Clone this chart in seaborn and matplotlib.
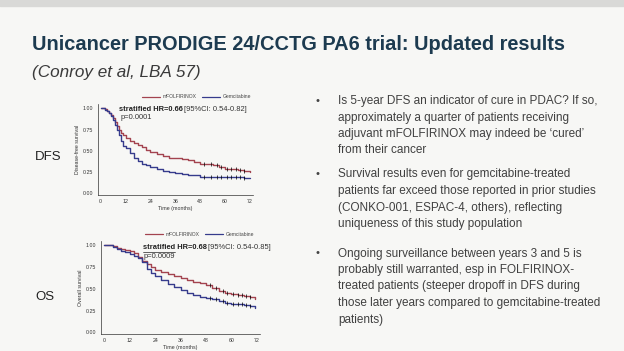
import numpy as np
import pandas as pd
import matplotlib
matplotlib.use("Agg")
import matplotlib.pyplot as plt
import seaborn as sns

# Kaplan-Meier curves
dfs_t = [0, 1, 2, 3, 4, 5, 6, 7, 8, 9, 10, 11, 12, 14, 16, 18, 20, 22, 24, 27, 30, 33, 36, 39, 42, 45, 48, 51, 54, 57, 60, 63, 66, 69, 72]
dfs_folf = [1.0, 1.0, 0.99, 0.97, 0.95, 0.92, 0.89, 0.84, 0.79, 0.74, 0.71, 0.68, 0.65, 0.62, 0.59, 0.57, 0.54, 0.51, 0.49, 0.46, 0.44, 0.42, 0.41, 0.40, 0.39, 0.37, 0.35, 0.34, 0.33, 0.31, 0.29, 0.28, 0.27, 0.26, 0.25]
dfs_gem = [1.0, 1.0, 0.98, 0.97, 0.95, 0.91, 0.86, 0.80, 0.74, 0.68, 0.61, 0.56, 0.53, 0.47, 0.41, 0.38, 0.35, 0.33, 0.31, 0.28, 0.26, 0.25, 0.24, 0.23, 0.22, 0.21, 0.195, 0.195, 0.195, 0.195, 0.19, 0.19, 0.19, 0.185, 0.185]

os_t = [0, 2, 4, 6, 8, 10, 12, 14, 16, 18, 20, 22, 24, 27, 30, 33, 36, 39, 42, 45, 48, 51, 54, 57, 60, 63, 66, 69, 71]
os_folf = [1.0, 1.0, 0.99, 0.97, 0.96, 0.95, 0.93, 0.91, 0.87, 0.82, 0.78, 0.75, 0.72, 0.69, 0.67, 0.65, 0.63, 0.60, 0.58, 0.565, 0.54, 0.51, 0.47, 0.45, 0.44, 0.43, 0.42, 0.40, 0.385]
os_gem = [1.0, 1.0, 0.98, 0.96, 0.94, 0.92, 0.90, 0.88, 0.85, 0.81, 0.73, 0.68, 0.645, 0.60, 0.56, 0.52, 0.49, 0.45, 0.43, 0.41, 0.39, 0.38, 0.355, 0.34, 0.33, 0.32, 0.31, 0.30, 0.28]

censor_t = [50, 53, 56, 58, 61, 63, 65, 67, 69]

groups = ["mFOLFIRINOX", "Gemcitabine"]
colors = ["#a3434f", "#363b8c"]
ci_text = {"0.66": "[95%CI: 0.54-0.82]", "0.68": "[95%CI: 0.54-0.85]"}

bullets = [
    ["Is 5-year DFS an indicator of cure in PDAC? If so,",
     "approximately a quarter of patients receiving",
     "adjuvant mFOLFIRINOX may indeed be \u2018cured\u2019",
     "from their cancer"],
    ["Survival results even for gemcitabine-treated",
     "patients far exceed those reported in prior studies",
     "(CONKO-001, ESPAC-4, others), reflecting",
     "uniqueness of this study population"],
    ["Ongoing surveillance between years 3 and 5 is",
     "probably still warranted, esp in FOLFIRINOX-",
     "treated patients (steeper dropoff in DFS during",
     "those later years compared to gemcitabine-treated",
     "patients)"],
]

sns.set_style("white")
plt.rcParams["font.family"] = ["Liberation Sans", "DejaVu Sans"]

W, H = 624, 351
fig = plt.figure(figsize=(W / 100, H / 100), dpi=100, facecolor="#f7f7f5")
renderer = fig.canvas.get_renderer()


def box(x0, y0, x1, y1):
    return [x0 / W, 1 - y1 / H, (x1 - x0) / W, (y1 - y0) / H]


def fx(x):
    return x / W


def fy(y):
    return 1 - y / H


def fit(t, target_px):
    w = t.get_window_extent(renderer).width
    t.set_fontsize(t.get_fontsize() * target_px / w)


# grey strip at the top of the slide
fig.patches.append(plt.Rectangle((0, fy(6)), 1, 6 / H, transform=fig.transFigure,
                                 color="#d9d9d7", zorder=0))

title = fig.text(fx(32), fy(45), "Unicancer PRODIGE 24/CCTG PA6 trial: Updated results",
                 fontweight="bold", fontsize=18, color="#1d3b50", va="center")
fit(title, 531)
sub = fig.text(fx(32), fy(72), "(Conroy et al, LBA 57)", style="italic",
               fontsize=13, color="#3a3a3a", va="center")
fit(sub, 168)


def km_panel(rect, t, a, b, ylabel, x0, hr, pval, underline, ann_xy):
    ax = fig.add_axes(rect)
    ax.set_facecolor("none")
    df = pd.DataFrame({"t": t * 2, "s": a + b, "arm": [groups[0]] * len(t) + [groups[1]] * len(t)})
    sns.lineplot(data=df, x="t", y="s", hue="arm", palette=colors, drawstyle="steps-post",
                 lw=1.0, ax=ax, legend=False)
    for vals in [a, b]:
        idx = np.searchsorted(t, censor_t, side="right") - 1
        sns.scatterplot(x=censor_t, y=np.array(vals)[idx], marker="|", s=8, color="black",
                        linewidth=0.5, ax=ax, legend=False, zorder=4)
    ax.set_xlim(x0, 72 - x0)
    ax.set_ylim(-0.02, 1.05)
    ax.set_xticks([0, 12, 24, 36, 48, 60, 72])
    ax.set_yticks([0, 0.25, 0.5, 0.75, 1.0])
    ax.set_yticklabels(["0.00", "0.25", "0.50", "0.75", "1.00"])
    ax.tick_params(labelsize=3.8, length=1.5, width=0.4, pad=1.5, colors="#333333")
    ax.set_xlabel("Time (months)", fontsize=3.8, labelpad=1.5, color="#333333")
    ax.set_ylabel(ylabel, fontsize=3.8, labelpad=2, color="#333333")
    sns.despine(ax=ax)
    for s in ["left", "bottom"]:
        ax.spines[s].set_linewidth(0.5)
        ax.spines[s].set_color("#333333")
    tx, ty = ann_xy
    inv = ax.transData.inverted()
    t1 = ax.text(tx, ty, "stratified HR=" + hr, fontsize=5.4, fontweight="bold",
                 color="#222222", va="center")
    bb = t1.get_window_extent(renderer)
    xe = inv.transform((bb.x1, bb.y0))[0]
    ax.text(xe + 0.6, ty, ci_text[hr], fontsize=5.4, color="#333333", va="center")
    ax.text(tx + 0.6, ty - 0.1, "p=" + pval, fontsize=5.4, color="#333333", va="center")
    if underline:
        tmp = ax.text(tx, ty, "stratified", fontsize=5.4, fontweight="bold", va="center")
        bb2 = tmp.get_window_extent(renderer)
        tmp.remove()
        x1 = inv.transform((bb2.x1, bb2.y0))[0]
        ax.plot([tx, x1], [ty - 0.055, ty - 0.055], color="#222222", lw=0.5)
    return ax


km_panel(box(97.6, 104, 253.1, 195), dfs_t, dfs_folf, dfs_gem, "Disease-free survival", -1.45,
         "0.66", "0.0001", False, (8.8, 0.99))
km_panel(box(100.7, 241, 260.3, 334), os_t, os_folf, os_gem, "Overall survival", -1.7,
         "0.68", "0.0009", True, (18.1, 0.975))

# legends above each panel
for ly, (l0, l1, g0, g1) in [(97, (142, 160, 202, 220)), (234, (145, 163, 205, 223))]:
    fig.add_artist(plt.Line2D([fx(l0), fx(l1)], [fy(ly), fy(ly)], color=colors[0], lw=0.9))
    fig.text(fx(l1 + 3), fy(ly), groups[0], fontsize=3.6, color="#444444", va="center")
    fig.add_artist(plt.Line2D([fx(g0), fx(g1)], [fy(ly), fy(ly)], color=colors[1], lw=0.9))
    fig.text(fx(g1 + 3), fy(ly), groups[1], fontsize=3.6, color="#444444", va="center")

fig.text(fx(35), fy(157), "DFS", fontsize=9.5, color="#222222", va="center")
fig.text(fx(35), fy(297), "OS", fontsize=9.5, color="#222222", va="center")

# bullet text, one line at a time; font size chosen so the widest line fits
probe = fig.text(0, 0, bullets[2][3], fontsize=10)
body_size = 10 * 263 / probe.get_window_extent(renderer).width
probe.remove()
for y0, lines in zip([101, 174.5, 253.5], bullets):
    fig.text(fx(316), fy(y0), "\u2022", fontsize=8, color="#444444", va="center")
    for i, line in enumerate(lines):
        fig.text(fx(338), fy(y0 + i * 16.5), line, fontsize=body_size, color="#404040",
                 va="center")

fig.savefig("out.png", dpi=100, facecolor=fig.get_facecolor())
